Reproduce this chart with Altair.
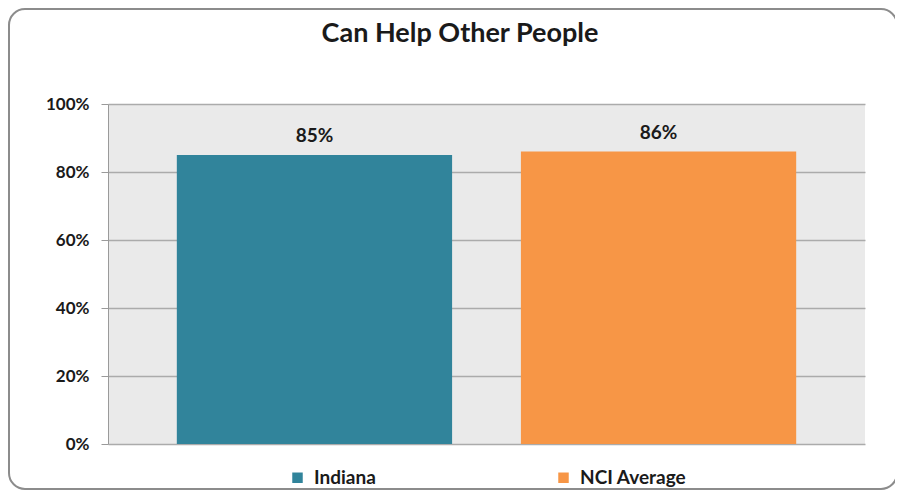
import altair as alt
import pandas as pd

categories = ["Indiana", "NCI Average"]
values = [85, 86]
colors = ["#31849B", "#F79646"]
title_text = "Can Help Other People"
tick_values = [0, 0.2, 0.4, 0.6, 0.8, 1.0]

df = pd.DataFrame({
    "group": categories,
    "value": [v / 100 for v in values],
    "label": [f"{v}%" for v in values],
})

FONT = "Lato"
W, H = 757, 340

x = alt.X("group:N", sort=categories, axis=None,
          scale=alt.Scale(paddingInner=0.2, paddingOuter=0.2))
y = alt.Y("value:Q", scale=alt.Scale(domain=[0, 1]),
          axis=alt.Axis(values=tick_values, format=".0%", title=None,
                        labelFont=FONT, labelFontWeight="bold", labelFontSize=17,
                        labelColor="#1a1a1a", labelPadding=12, tickSize=7,
                        tickColor="#9A9A9A", domainColor="#9A9A9A",
                        gridColor="#ABABAB", gridWidth=1.3))

bars = alt.Chart(df).mark_bar().encode(
    x=x, y=y,
    color=alt.Color("group:N",
                    scale=alt.Scale(domain=categories, range=colors),
                    legend=alt.Legend(title=None, orient="none", direction="horizontal",
                                      legendX=180, legendY=364, symbolType="square",
                                      symbolSize=110, symbolStrokeWidth=0,
                                      labelFont=FONT, labelFontWeight="bold",
                                      labelFontSize=19, labelColor="#1a1a1a",
                                      labelOffset=7, columnPadding=178)),
)

labels = alt.Chart(df).mark_text(dy=-19, fontWeight="bold", fontSize=19, font=FONT,
                                 color="#1a1a1a").encode(
    x=x, y=y, text="label:N")

title = alt.Chart(pd.DataFrame({"t": [title_text]})).mark_text(
    fontWeight="bold", fontSize=27, font=FONT, color="#1a1a1a", baseline="middle"
).encode(x=alt.value(352), y=alt.value(-70), text="t:N")

frame = alt.Chart(pd.DataFrame({"a": [0]})).mark_rect(
    filled=False, stroke="#8C8C8C", strokeWidth=2, cornerRadius=16
).encode(x=alt.value(-99), x2=alt.value(789), y=alt.value(-95), y2=alt.value(385))

chart = alt.layer(frame, bars, labels, title).properties(
    width=W, height=H,
    autosize=alt.AutoSizeParams(type="none"),
    padding={"left": 100, "top": 96, "right": 30, "bottom": 46},
    background="white",
).configure_view(fill="#EAEAEA", stroke=None)

chart.save("out.html", embed_options={"renderer": "svg", "actions": False})
